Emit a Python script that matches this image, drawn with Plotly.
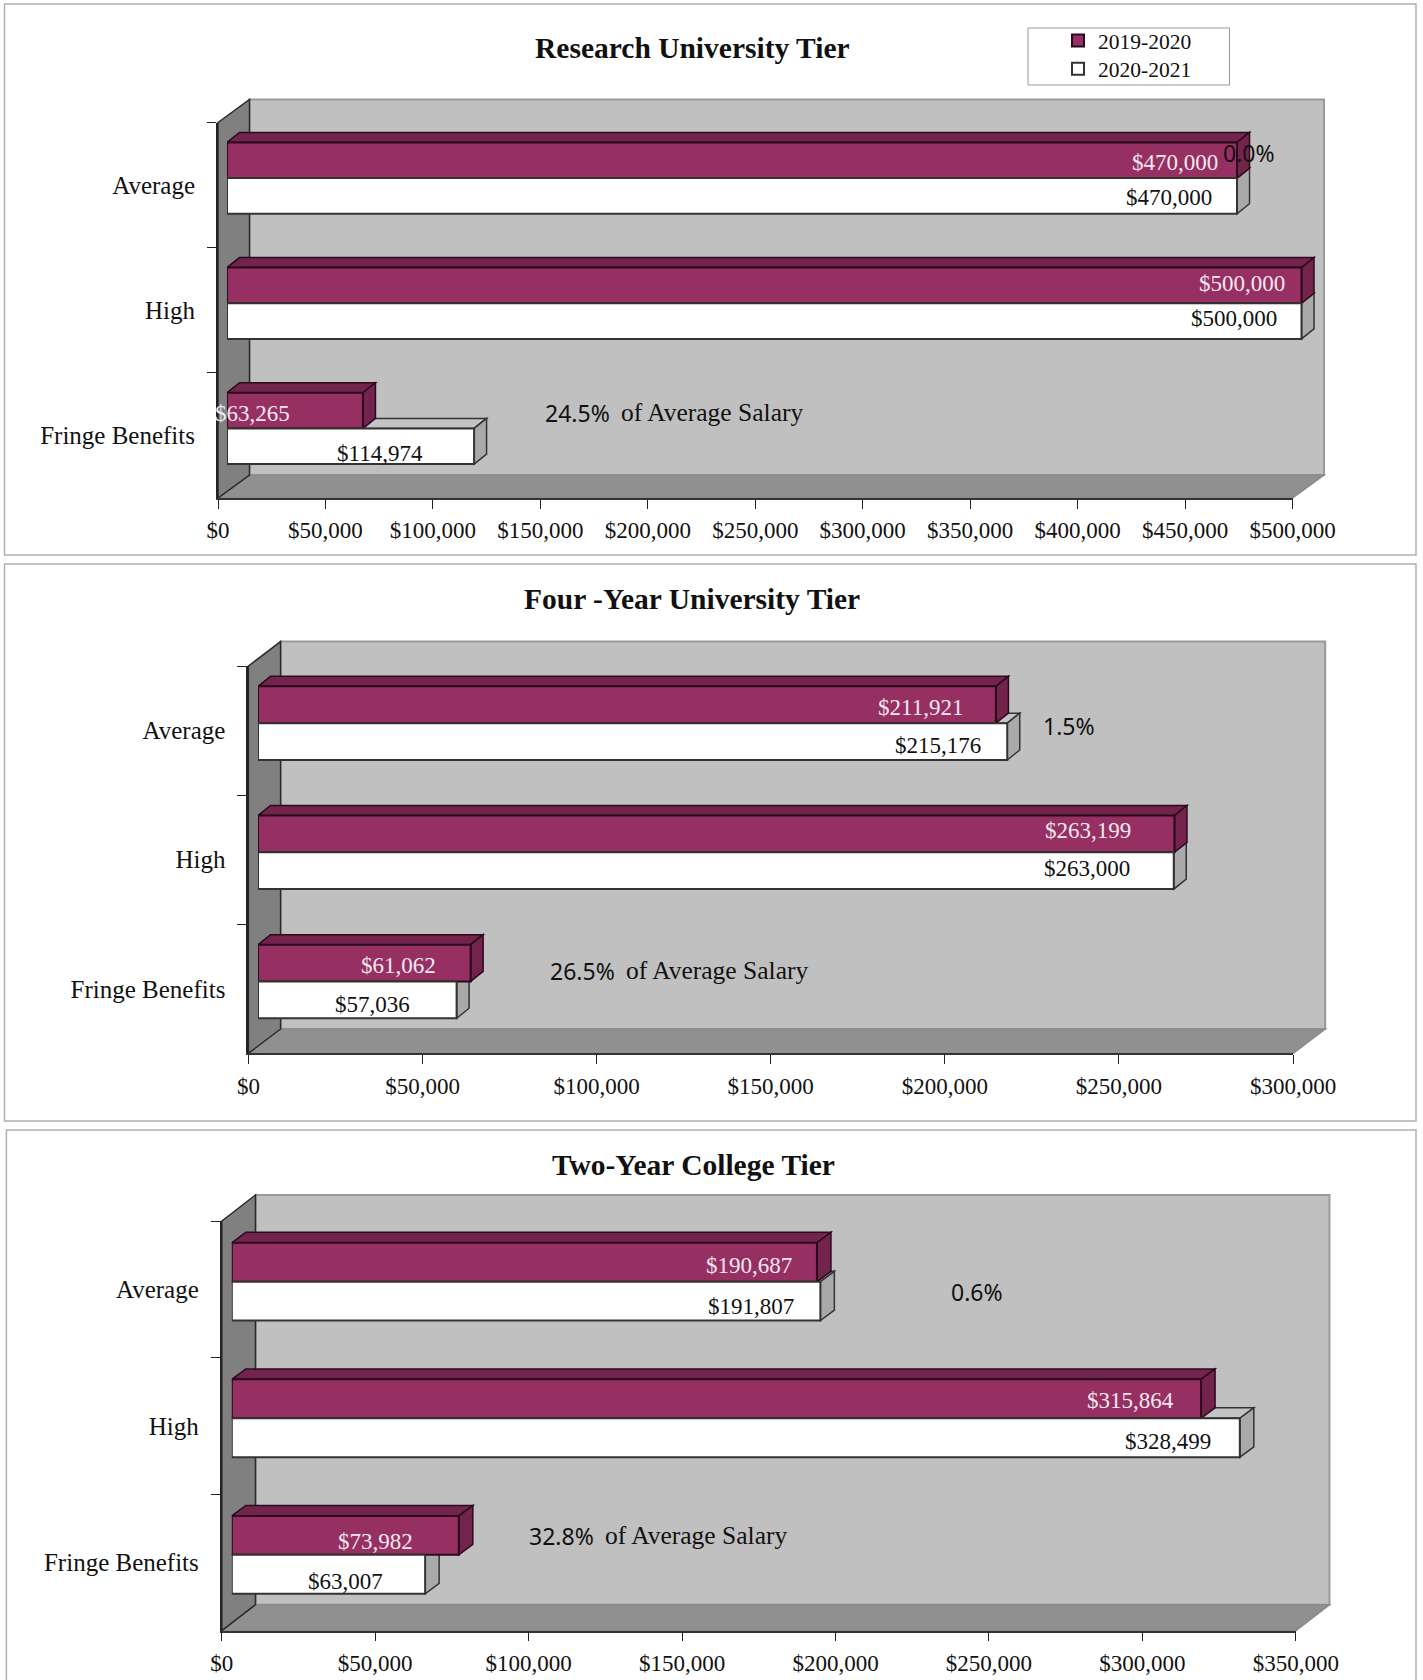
import plotly.graph_objects as go

W, H = 1423, 1680
CATS = ["Average", "High", "Fringe Benefits"]
SERIES = ["2019-2020", "2020-2021"]
TITLES = ["Research University Tier", "Four -Year University Tier", "Two-Year College Tier"]

research_2019 = [470000, 500000, 63265]
research_2020 = [470000, 500000, 114974]
four_2019 = [211921, 263199, 61062]
four_2020 = [215176, 263000, 57036]
two_2019 = [190687, 315864, 73982]
two_2020 = [191807, 328499, 63007]

research_ticks = [0, 50000, 100000, 150000, 200000, 250000, 300000, 350000, 400000, 450000, 500000]
four_ticks = [0, 50000, 100000, 150000, 200000, 250000, 300000]
two_ticks = [0, 50000, 100000, 150000, 200000, 250000, 300000, 350000]

change_text = ["0.0%", "1.5%", "0.6%"]
fringe_text = ["24.5%", "26.5%", "32.8%"]

PURPLE, PURPLE_D, GREY_SIDE, GREY_TOP = "#963063", "#72244C", "#A9A9A9", "#C4C4C4"
BACK, LEFT, FLOOR = "#C0C0C0", "#808080", "#909090"
SERIF, SANS = "Liberation Serif", "Noto Sans"
BARGAP = 0.43

# Layout of the three panels, in page pixels
PANELS = [
    dict(a=research_2019, b=research_2020, ticks=research_ticks,
         frame=(4.5, 4, 1416, 555), x0=218, x1=1292.5, y0=122.5, y1=498, wall=(31.5, 23),
         off=(9, 7), depth=(12.5, 10), title=(692, 48),
         dxa=[-62.5, -59.5, -110], dya=[-15.8, -20, -15], dxb=[-68, -67.5, -94], dyb=[19, 15, 25],
         change=(1249, 153), fringe=(542.5, 619, 412.5)),
    dict(a=four_2019, b=four_2020, ticks=four_ticks,
         frame=(4.5, 564, 1416, 1121), x0=248.4, x1=1293, y0=666, y1=1053.4, wall=(32.2, 24.4),
         off=(9.6, 7.4), depth=(12.5, 10), title=(692, 599),
         dxa=[-75, -86, -72.5], dya=[-16, -21.6, -16], dxb=[-69, -86.5, -84], dyb=[22.7, 16, 23.5],
         change=(1069.4, 726), fringe=(547.7, 623.8, 971)),
    dict(a=two_2019, b=two_2020, ticks=two_ticks,
         frame=(6.4, 1130, 1416, 1690), x0=221.8, x1=1295.8, y0=1221, y1=1630.7, wall=(33.7, 26),
         off=(10, 7.6), depth=(14, 10.4), title=(693, 1165),
         dxa=[-67.8, -70.5, -83.8], dya=[-16, -17.6, -13.6], dxb=[-69.3, -71.6, -80.1], dyb=[24.6, 23, 27],
         change=(977, 1292), fringe=(527, 603, 1535.5)),
]


def px(x):
    return x / W


def py(y):
    return 1 - y / H


def poly(points, fill, line, width=1.5, layer="below"):
    path = "M " + " L ".join(f"{px(x):.5f},{py(y):.5f}" for x, y in points) + " Z"
    return dict(type="path", xref="paper", yref="paper", path=path, fillcolor=fill,
                line=dict(color=line, width=width), layer=layer)


def money(v):
    return f"${v:,}"


fig = go.Figure()
shapes, annotations, layout_axes = [], [], {}

for i, p in enumerate(PANELS):
    tx, ty, bx, by = (f"x{2*i+1}", f"y{2*i+1}", f"x{2*i+2}", f"y{2*i+2}")
    xn = lambda s: s.replace("x", "xaxis").replace("y", "yaxis")
    x0, x1, y0, y1 = p["x0"], p["x1"], p["y0"], p["y1"]
    wx, wy = p["wall"]
    ox, oy = p["off"]
    dx, dy = p["depth"]
    vmax = p["ticks"][-1]
    scale = (x1 - x0) / vmax
    pad = 30  # spare room so the depth faces are not clipped
    band = (y1 - y0) / 3
    thick = band * (1 - BARGAP) / 2

    # frame and walls
    f = p["frame"]
    shapes.append(poly([(f[0], f[1]), (f[2], f[1]), (f[2], f[3]), (f[0], f[3])], "white", "#B0B0B0", 1.5))
    if i == 0:  # legend box
        shapes.append(poly([(1028, 28), (1229.5, 28), (1229.5, 85), (1028, 85)], "white", "#999", 1))
    shapes.append(poly([(x0 + wx, y0 - wy), (x1 + wx, y0 - wy), (x1 + wx, y1 - wy), (x0 + wx, y1 - wy)], BACK, "#9A9A9A", 2))
    shapes.append(poly([(x0, y1), (x0 + wx, y1 - wy), (x1 + wx, y1 - wy), (x1, y1)], FLOOR, "#8A8A8A", 1.5))
    shapes.append(poly([(x0, y0), (x0 + wx, y0 - wy), (x0 + wx, y1 - wy), (x0, y1)], LEFT, "#2A2A2A", 1.5))

    # axes
    layout_axes[xn(tx)] = dict(domain=[px(x0), px(x1)], anchor=ty, range=[0, vmax], tickmode="array",
                               tickvals=p["ticks"], ticktext=[money(t) for t in p["ticks"]],
                               ticks="outside", ticklen=9, tickcolor="#222", tickwidth=1,
                               showline=True, linecolor="#333", linewidth=1.5, showgrid=False, zeroline=False,
                               tickfont=dict(family=SERIF, size=23, color="#111"), ticklabelstandoff=2)
    layout_axes[xn(ty)] = dict(domain=[py(y1), py(y0)], anchor=tx, type="category", categoryorder="array",
                               categoryarray=CATS, range=[2.5, -0.5], tickson="boundaries",
                               ticks="outside", ticklen=9, tickcolor="#222", tickwidth=1,
                               showline=True, linecolor="#222", linewidth=2, showgrid=False, zeroline=False,
                               tickfont=dict(family=SERIF, size=25, color="#111"), ticklabelstandoff=16)
    layout_axes[xn(bx)] = dict(domain=[px(x0 + ox), px(x1 + ox + pad)], anchor=by,
                               range=[0, vmax + pad / scale], visible=False)
    layout_axes[xn(by)] = dict(domain=[py(y1 - oy), py(y0 - oy)], anchor=bx, type="category", categoryorder="array",
                               categoryarray=CATS, range=[2.5, -0.5], visible=False)

    fig.add_trace(go.Scatter(x=[0] * 3, y=CATS, mode="markers", marker=dict(opacity=0),
                             xaxis=tx, yaxis=ty, showlegend=False, hoverinfo="skip"))

    # depth faces drawn through the bar axis, white series first
    d = dx / scale
    for c, va, vb in zip(CATS, p["a"], p["b"]):
        faces = [
            ([(0, 0), (d, dy), (vb + d, dy), (vb, 0)], GREY_TOP, "#333"),
            ([(vb, 0), (vb + d, dy), (vb + d, dy - thick), (vb, -thick)], GREY_SIDE, "#333"),
            ([(0, thick), (d, thick + dy), (va + d, thick + dy), (va, thick)], PURPLE_D, "#2A0A1C"),
            ([(va, thick), (va + d, thick + dy), (va + d, dy), (va, 0)], PURPLE_D, "#2A0A1C"),
        ]
        for pts, fill, line in faces:
            shapes.append(dict(type="path", xref=bx, yref=by, ysizemode="pixel", yanchor=c,
                               path="M " + " L ".join(f"{a},{b}" for a, b in pts) + " Z",
                               fillcolor=fill, line=dict(color=line, width=1.5), layer="below"))

    # front faces
    for n, (name, vals, col, lc) in enumerate(((SERIES[0], p["a"], PURPLE, "#2A0A1C"), (SERIES[1], p["b"], "white", "#333"))):
        fig.add_trace(go.Bar(x=vals, y=CATS, orientation="h", name=name, xaxis=bx, yaxis=by,
                             marker=dict(color=col, line=dict(color=lc, width=2)), cliponaxis=False,
                             showlegend=(i == 0), legend="legend" if n == 0 else "legend2"))

    # value labels anchored on the bar ends
    for vals, ddx, ddy, col in ((p["a"], p["dxa"], p["dya"], "#F4E8EE"), (p["b"], p["dxb"], p["dyb"], "#111")):
        for c, v, sx, sy in zip(CATS, vals, ddx, ddy):
            annotations.append(dict(xref=bx, yref=by, x=v, y=c, text=money(v), showarrow=False,
                                    xanchor="center", yanchor="middle", xshift=sx, yshift=-sy,
                                    font=dict(family=SERIF, size=23, color=col)))

    annotations.append(dict(xref="paper", yref="paper", x=px(p["title"][0]), y=py(p["title"][1]),
                            text=f"<b>{TITLES[i]}</b>", showarrow=False, xanchor="center", yanchor="middle",
                            font=dict(family=SERIF, size=29.5, color="#111")))
    annotations.append(dict(xref="paper", yref="paper", x=px(p["change"][0]), y=py(p["change"][1]),
                            text=change_text[i], showarrow=False, xanchor="center", yanchor="middle",
                            font=dict(family=SANS, size=23, color="#111")))
    fx, ofx, fy = p["fringe"]
    annotations.append(dict(xref="paper", yref="paper", x=px(fx), y=py(fy), text=fringe_text[i], showarrow=False,
                            xanchor="left", yanchor="middle", font=dict(family=SANS, size=23, color="#111")))
    annotations.append(dict(xref="paper", yref="paper", x=px(ofx), y=py(fy), text="of Average Salary", showarrow=False,
                            xanchor="left", yanchor="middle", font=dict(family=SERIF, size=25.5, color="#111")))

legend_style = dict(xanchor="left", yanchor="middle", bgcolor="rgba(0,0,0,0)", borderwidth=0,
                    font=dict(family=SERIF, size=21.5, color="#111"), itemwidth=30)
fig.update_layout(width=W, height=H, margin=dict(l=0, r=0, t=0, b=0, autoexpand=False),
                  paper_bgcolor="white", plot_bgcolor="rgba(0,0,0,0)",
                  barmode="group", bargap=BARGAP, bargroupgap=0, shapes=shapes, annotations=annotations,
                  legend=dict(x=px(1058), y=py(40.5), **legend_style),
                  legend2=dict(x=px(1058), y=py(68.7), **legend_style),
                  **layout_axes)
fig.write_html("out.html", config={"displayModeBar": False},
               post_script="document.body.style.margin='0';document.body.style.overflow='hidden';")
